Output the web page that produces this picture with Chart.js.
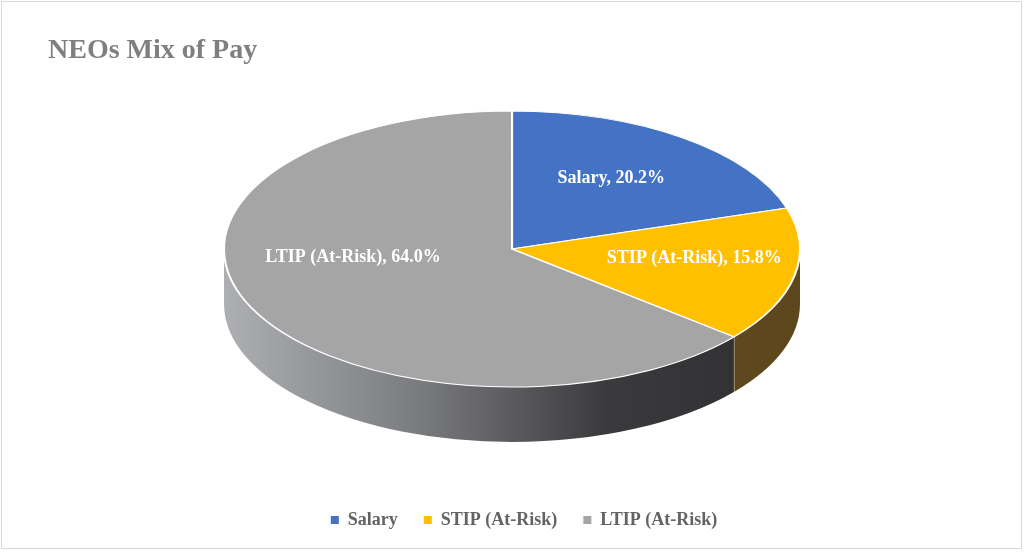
<!DOCTYPE html>
<html>
<head>
<meta charset="utf-8">
<script src="https://cdn.jsdelivr.net/npm/chart.js@4"></script>
<style>
  html, body { margin: 0; padding: 0; background: #fff; }
  #wrap { position: relative; width: 1024px; height: 552px; }
</style>
</head>
<body>
<div id="wrap"><canvas id="myChart" width="1024" height="552"></canvas></div>
<script>
// Datos del gráfico
const categories = ['Salary', 'STIP (At-Risk)', 'LTIP (At-Risk)'];
const payMix = [20.2, 15.8, 64.0];
const sliceColors = ['#4472C4', '#FFC000', '#A5A5A5'];

const serif = "'Liberation Serif', 'Times New Roman', serif";

// Pie "3D": lados dibujados desde los arcos del propio Chart.js, luego la tapa se aplasta en elipse
const pie3d = {
  id: 'pie3d',
  beforeDatasetsDraw(chart, args, opts) {
    const ctx = chart.ctx;
    const arcs = chart.getDatasetMeta(0).data;
    const { cx, cy, rx, ry, depth } = opts;

    // lados visibles (mitad frontal: ángulos 0..PI)
    arcs.forEach((arc, i) => {
      const a0 = Math.max(arc.startAngle, 0);
      const a1 = Math.min(arc.endAngle, Math.PI);
      if (a1 <= a0) return;
      const g = ctx.createLinearGradient(cx - rx, 0, cx + rx, 0);
      opts.sideColors[i].forEach((c, k, all) => g.addColorStop(k / (all.length - 1), c));
      ctx.save();
      ctx.beginPath();
      ctx.ellipse(cx, cy, rx, ry, 0, a0, a1);
      ctx.ellipse(cx, cy + depth, rx, ry, 0, a1, a0, true);
      ctx.closePath();
      ctx.fillStyle = g;
      ctx.fill();
      // arista vertical en el límite entre porciones
      if (arc.endAngle > 0 && arc.endAngle < Math.PI) {
        const x = cx + rx * Math.cos(arc.endAngle);
        const y = cy + ry * Math.sin(arc.endAngle);
        ctx.strokeStyle = 'rgba(255,255,255,0.8)';
        ctx.lineWidth = 1;
        ctx.beginPath();
        ctx.moveTo(x, y);
        ctx.lineTo(x, y + depth);
        ctx.stroke();
      }
      ctx.restore();
    });

    // transformar el círculo en la elipse de la tapa
    const a = arcs[0];
    const r = a.outerRadius;
    ctx.save();
    ctx.translate(cx, cy);
    ctx.scale(rx / r, ry / r);
    ctx.translate(-a.x, -a.y);
  },
  afterDatasetsDraw(chart, args, opts) {
    const ctx = chart.ctx;
    ctx.restore();
    const arcs = chart.getDatasetMeta(0).data;
    const { cx, cy, rx, ry } = opts;
    ctx.save();
    ctx.font = 'bold 18px ' + serif;
    ctx.fillStyle = '#ffffff';
    ctx.textAlign = 'center';
    ctx.textBaseline = 'middle';
    arcs.forEach((arc, i) => {
      const mid = (arc.startAngle + arc.endAngle) / 2;
      const x = cx + rx * opts.labelRadius * Math.cos(mid) + opts.labelNudge[i][0];
      const y = cy + ry * opts.labelRadius * Math.sin(mid) + opts.labelNudge[i][1];
      ctx.fillText(categories[i] + ', ' + payMix[i].toFixed(1) + '%', x, y);
    });
    ctx.restore();
  },
  afterDraw(chart) {
    const ctx = chart.ctx;
    ctx.save();
    ctx.strokeStyle = '#d9d9d9';
    ctx.lineWidth = 1;
    ctx.strokeRect(1.5, 1.5, 1020, 547);
    ctx.restore();
  }
};

const ctx = document.getElementById('myChart').getContext('2d');
const myChart = new Chart(ctx, {
  type: 'pie',
  data: {
    labels: categories,
    datasets: [{
      data: payMix,
      backgroundColor: sliceColors,
      borderColor: '#ffffff',
      borderWidth: 1.5
    }]
  },
  options: {
    responsive: false,
    animation: false,
    events: [],
    layout: { padding: { top: 10, left: 48, right: 24, bottom: 13 } },
    plugins: {
      title: {
        display: true,
        text: 'NEOs Mix of Pay',
        align: 'start',
        color: '#7f7f7f',
        font: { family: serif, size: 28, weight: 'bold' },
        padding: { top: 24, bottom: 10 }
      },
      legend: {
        position: 'bottom',
        labels: {
          boxWidth: 8,
          boxHeight: 8,
          padding: 26,
          color: '#636363',
          font: { family: serif, size: 18, weight: 'bold' },
          generateLabels: (chart) =>
            Chart.overrides.pie.plugins.legend.labels.generateLabels(chart)
              .map(l => ({ ...l, lineWidth: 0, strokeStyle: l.fillStyle }))
        }
      },
      tooltip: { enabled: false },
      pie3d: {
        cx: 512, cy: 249, rx: 288, ry: 138, depth: 55,
        sideColors: [
          ['#2f4f8a', '#22396a'],
          ['#735624', '#5c461c'],
          ['#aeafb3', '#7b7c80', '#3a3a3c', '#2e2e30']
        ],
        labelRadius: 0.61,
        labelNudge: [[-5, -3], [10, -7], [0, -27]]
      }
    }
  },
  plugins: [pie3d]
});
</script>
</body>
</html>
